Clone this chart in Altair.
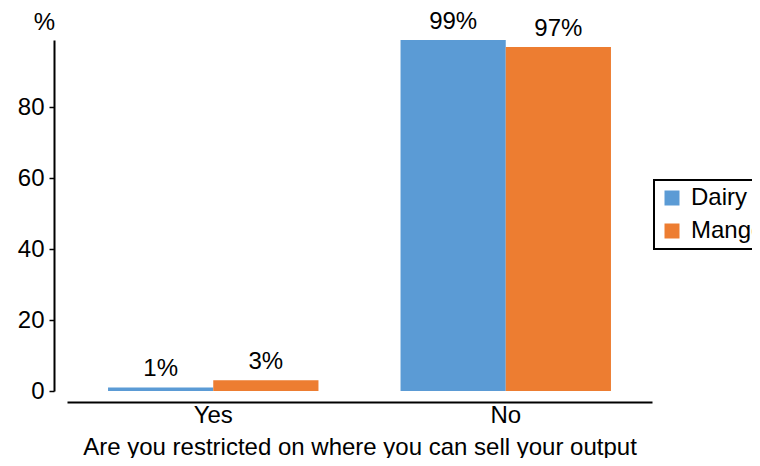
import altair as alt
import pandas as pd

categories = ["Yes", "No"]
series = ["Dairy", "Mango"]
dairy = [1, 99]
mango = [3, 97]
colors = ["#5B9BD5", "#ED7D31"]

rows = []
for i, c in enumerate(categories):
    rows.append({"answer": c, "series": "Dairy", "value": dairy[i], "label": f"{dairy[i]}%"})
    rows.append({"answer": c, "series": "Mango", "value": mango[i], "label": f"{mango[i]}%"})
df = pd.DataFrame(rows)

FONT = "Liberation Sans"
FS = 24

base = alt.Chart(df).encode(
    x=alt.X(
        "answer:N",
        sort=categories,
        scale=alt.Scale(paddingInner=0, paddingOuter=0),
        axis=alt.Axis(
            title="Are you restricted on where you can sell your output",
            labelAngle=0,
            ticks=False,
            offset=11,
            domainColor="black",
            domainWidth=2,
            labelFontSize=FS,
            labelColor="black",
            labelPadding=1,
            titleFontSize=FS,
            titleFontWeight="normal",
            titleColor="black",
            titlePadding=8,
        ),
    ),
    xOffset=alt.XOffset(
        "series:N", sort=series, scale=alt.Scale(paddingOuter=0.39, paddingInner=0)
    ),
    y=alt.Y(
        "value:Q",
        scale=alt.Scale(domain=[0, 99], nice=False, clamp=False),
        axis=alt.Axis(
            values=[0, 20, 40, 60, 80],
            grid=False,
            offset=13,
            domainColor="black",
            domainWidth=2,
            tickColor="black",
            tickSize=5,
            tickWidth=1.5,
            labelFontSize=FS,
            labelColor="black",
            labelPadding=5,
            title="%",
            titleAngle=0,
            titleFontSize=FS,
            titleFontWeight="normal",
            titleColor="black",
            titleAlign="center",
            titleBaseline="bottom",
            titleX=-10,
            titleY=-6,
        ),
    ),
)

bars = base.mark_bar(clip=False).encode(
    color=alt.Color(
        "series:N",
        sort=series,
        scale=alt.Scale(domain=series, range=colors),
        legend=alt.Legend(
            title=None,
            orient="none",
            legendX=587,
            legendY=140,
            labelFontSize=FS,
            labelColor="black",
            labelOffset=7,
            symbolType="square",
            symbolSize=225,
            symbolStrokeWidth=0,
            strokeColor="black",
            padding=6,
            rowPadding=9,
        ),
    )
)

text = base.mark_text(
    baseline="bottom", dy=-6, fontSize=FS, font=FONT, color="black"
).encode(text="label:N")

chart = (
    alt.layer(bars, text)
    .properties(
        width=585,
        height=351,
        autosize=alt.AutoSizeParams(type="none"),
        padding={"left": 59, "top": 32, "right": 100, "bottom": 67},
    )
    .configure(font=FONT)
    .configure_view(stroke=None)
    .configure_legend(strokeWidth=2)
)

chart.save("out.html", embed_options={"renderer": "svg", "actions": False})
